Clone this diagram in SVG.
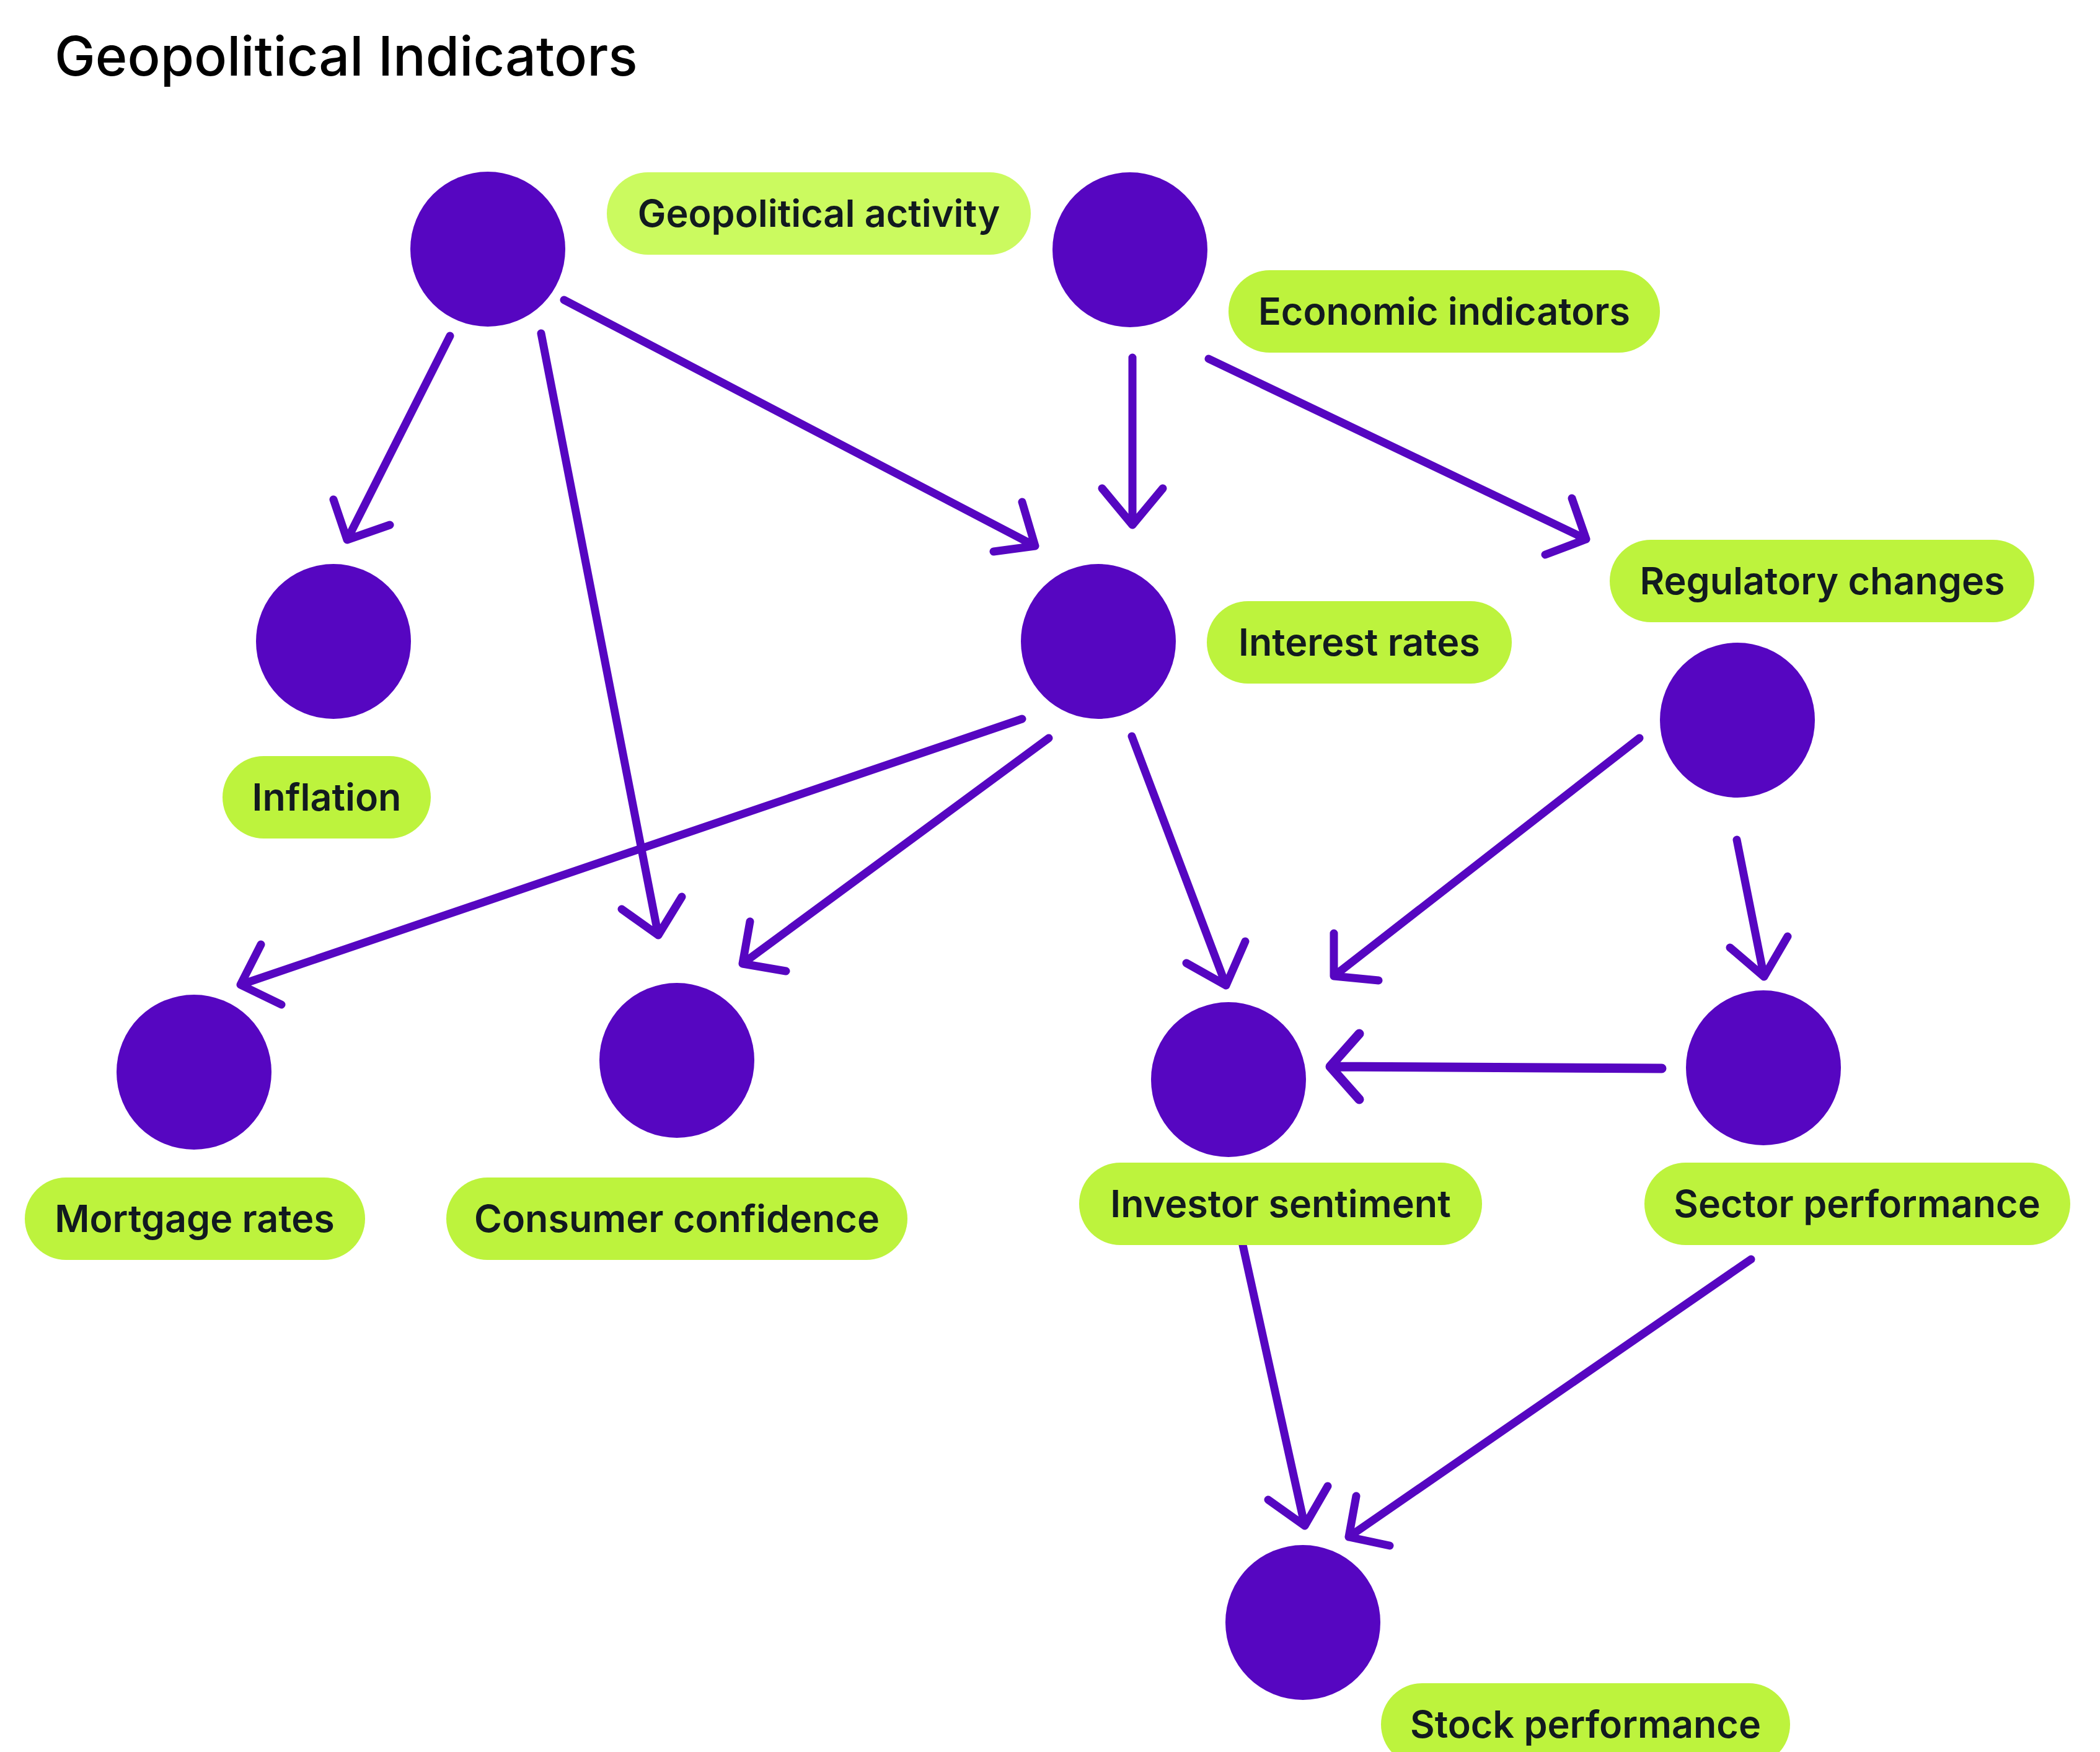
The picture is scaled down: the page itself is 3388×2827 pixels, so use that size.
<svg xmlns="http://www.w3.org/2000/svg" width="3388" height="2827" viewBox="0 0 3388 2827">
<style>
.dot{fill:#5606C1}
.pill{fill:#BDF33D}
.pill2{fill:#CBFA5F}
.lbl{font-family:Inter,"Liberation Sans",sans-serif;font-weight:600;font-size:61px;fill:#121A1F;text-anchor:middle}
.title{font-family:Inter,"Liberation Sans",sans-serif;font-weight:500;font-size:88px;fill:#000}
.edge{fill:none;stroke:#5606C1;stroke-width:13;stroke-linecap:round;stroke-linejoin:round}
</style>
<rect width="3388" height="2827" fill="#fff"/>
<text class="title" x="88" y="122">Geopolitical Indicators</text>
<g id="connectors">
<path class="edge" d="M726 542 L560 871 M538 806 L560 871 L629 847"/>
<path class="edge" d="M873 538 L1062 1509 M1003 1467 L1062 1509 L1100 1447"/>
<path class="edge" d="M910 484 L1670 881 M1649 810 L1670 881 L1603 890"/>
<path class="edge" d="M1827 577 L1827 847 M1778 788 L1827 847 L1876 788"/>
<path class="edge" d="M1950 579 L2559 870 M2536 804 L2559 870 L2493 895"/>
<path class="edge" d="M1649 1160 L388 1589 M421 1524 L388 1589 L454 1621"/>
<path class="edge" d="M1692 1191 L1198 1555 M1210 1487 L1198 1555 L1268 1567"/>
<path class="edge" d="M1826 1188 L1978 1590 M1914 1554 L1978 1590 L2009 1519"/>
<path class="edge" d="M2645 1191 L2152 1575 M2152 1506 L2152 1575 L2224 1582"/>
<path class="edge" d="M2802 1355 L2846 1576 M2791 1529 L2846 1576 L2884 1511"/>
<path class="edge" style="stroke-width:15" d="M2681 1724 L2146 1721 M2193 1668 L2146 1721 L2193 1774"/>
<path class="edge" d="M2005 2009 L2105 2462 M2046 2420 L2105 2462 L2142 2398"/>
<path class="edge" d="M2825 2032 L2176 2480 M2188 2414 L2176 2480 L2242 2494"/>
</g>
<g id="n-geopolitical-activity">
<circle class="dot" cx="787" cy="402" r="125"/>
<rect class="pill2" x="979" y="278" width="684" height="133" rx="66.5"/>
<text class="lbl" x="1321" y="366">Geopolitical activity</text>
</g>
<g id="n-economic-indicators">
<circle class="dot" cx="1823" cy="403" r="125"/>
<rect class="pill" x="1982" y="436" width="696" height="133" rx="66.5"/>
<text class="lbl" x="2330" y="524">Economic indicators</text>
</g>
<g id="n-interest-rates">
<circle class="dot" cx="1772" cy="1035" r="125"/>
<rect class="pill" x="1947" y="970" width="492" height="133" rx="66.5"/>
<text class="lbl" x="2193" y="1058">Interest rates</text>
</g>
<g id="n-regulatory-changes">
<circle class="dot" cx="2803" cy="1162" r="125"/>
<rect class="pill" x="2597" y="871" width="685" height="133" rx="66.5"/>
<text class="lbl" x="2940" y="959">Regulatory changes</text>
</g>
<g id="n-inflation">
<circle class="dot" cx="538" cy="1035" r="125"/>
<rect class="pill" x="359" y="1220" width="336" height="133" rx="66.5"/>
<text class="lbl" x="527" y="1308">Inflation</text>
</g>
<g id="n-mortgage-rates">
<circle class="dot" cx="313" cy="1730" r="125"/>
<rect class="pill" x="40" y="1900" width="549" height="133" rx="66.5"/>
<text class="lbl" x="314" y="1988">Mortgage rates</text>
</g>
<g id="n-consumer-confidence">
<circle class="dot" cx="1092" cy="1711" r="125"/>
<rect class="pill" x="720" y="1900" width="744" height="133" rx="66.5"/>
<text class="lbl" x="1092" y="1988">Consumer confidence</text>
</g>
<g id="n-investor-sentiment">
<circle class="dot" cx="1982" cy="1742" r="125"/>
<rect class="pill" x="1741" y="1876" width="650" height="133" rx="66.5"/>
<text class="lbl" x="2066" y="1964">Investor sentiment</text>
</g>
<g id="n-sector-performance">
<circle class="dot" cx="2845" cy="1723" r="125"/>
<rect class="pill" x="2653" y="1876" width="687" height="133" rx="66.5"/>
<text class="lbl" x="2996" y="1964">Sector performance</text>
</g>
<g id="n-stock-performance">
<circle class="dot" cx="2102" cy="2618" r="125"/>
<rect class="pill" x="2228" y="2716" width="660" height="133" rx="66.5"/>
<text class="lbl" x="2558" y="2804">Stock performance</text>
</g>
</svg>
